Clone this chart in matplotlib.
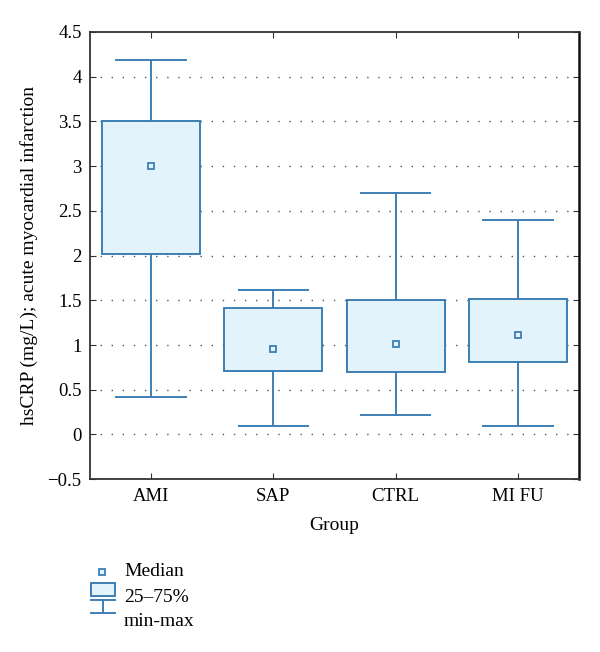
import numpy as np
import matplotlib.pyplot as plt
from matplotlib.patches import Rectangle

plt.rcParams['font.family'] = ['Liberation Serif', 'DejaVu Serif']

groups = ['AMI', 'SAP', 'CTRL', 'MI FU']
q_min = [0.42, 0.10, 0.22, 0.10]
q1 = [2.02, 0.71, 0.70, 0.81]
median = [3.00, 0.96, 1.01, 1.11]
q3 = [3.50, 1.41, 1.50, 1.51]
q_max = [4.19, 1.61, 2.70, 2.40]

line_c = '#3d7fb4'
fill_c = '#e2f3fc'

fig = plt.figure(figsize=(6, 6.52), dpi=100)
ax = fig.add_axes([0.15, 0.265, 0.815, 0.686])

pos = np.arange(1, len(groups) + 1)
box_w = 0.8
cap_w = 0.57

for y in np.arange(0, 4.5, 0.5):
    ax.axhline(y, xmin=0.02, xmax=0.99, color='#555555', linestyle=(0, (1, 7)),
               linewidth=1.0, zorder=1)

for p, lo, a, m, b, hi in zip(pos, q_min, q1, median, q3, q_max):
    ax.add_patch(Rectangle((p - box_w / 2, a), box_w, b - a, facecolor=fill_c,
                           edgecolor=line_c, linewidth=1.4, zorder=3))
    ax.plot([p, p], [b, hi], color=line_c, lw=1.4, zorder=2)
    ax.plot([p, p], [lo, a], color=line_c, lw=1.4, zorder=2)
    ax.plot([p - cap_w / 2, p + cap_w / 2], [hi, hi], color=line_c, lw=1.4, zorder=2)
    ax.plot([p - cap_w / 2, p + cap_w / 2], [lo, lo], color=line_c, lw=1.4, zorder=2)
    ax.plot(p, m, marker='s', markersize=5, markerfacecolor=fill_c,
            markeredgecolor=line_c, markeredgewidth=1.3, zorder=4)

ax.set_xlim(0.5, 4.5)
ax.set_ylim(-0.5, 4.5)
ax.set_xticks(pos)
ax.set_xticklabels(groups)
ax.set_yticks(np.arange(-0.5, 4.51, 0.5))
ax.set_yticklabels(['\u22120.5', '0', '0.5', '1', '1.5', '2', '2.5', '3', '3.5', '4', '4.5'])
ax.tick_params(direction='in', top=True, right=True, length=4, labelsize=13.5,
               color='#333333', pad=6)
for s in ax.spines.values():
    s.set_linewidth(1.3)
    s.set_color('#333333')
ax.spines['right'].set_color('#111111')
ax.spines['right'].set_linewidth(1.8)

ax.set_xlabel('Group', fontsize=14, labelpad=9)
ax.set_ylabel('hsCRP (mg/L); acute myocardial infarction', fontsize=14, labelpad=7)

# legend drawn by hand below the plot
lg = fig.add_axes([0, 0, 1, 1], facecolor='none')
lg.set_xlim(0, 600)
lg.set_ylim(652, 0)
lg.axis('off')
lg.plot(102, 572, marker='s', markersize=5, markerfacecolor=fill_c,
        markeredgecolor=line_c, markeredgewidth=1.3)
lg.add_patch(Rectangle((91, 583), 24, 13, facecolor=fill_c, edgecolor=line_c, linewidth=1.4))
lg.plot([91, 115], [600, 600], color=line_c, lw=1.4)
lg.plot([103, 103], [600, 613], color=line_c, lw=1.4)
lg.plot([91, 115], [613, 613], color=line_c, lw=1.4)
for txt, yy in zip(['Median', '25\u201375%', 'min-max'], [572, 597, 621]):
    lg.text(124, yy, txt, fontsize=14, va='center', ha='left')

fig.savefig('out.png', dpi=100)
